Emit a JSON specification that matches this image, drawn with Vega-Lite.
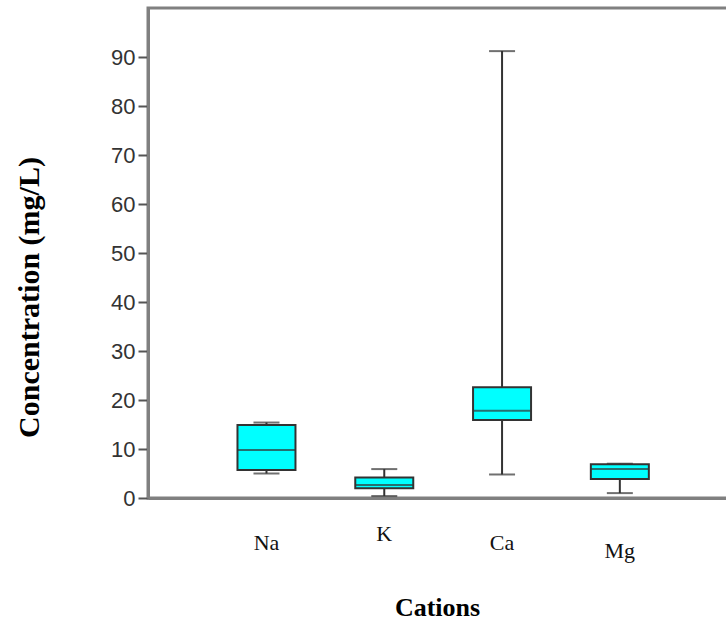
{
  "$schema": "https://vega.github.io/schema/vega-lite/v6.json",
  "autosize": "none",
  "padding": {"left": 148, "top": 8, "right": 0, "bottom": 127},
  "width": 584,
  "height": 490,
  "background": "white",
  "config": {
    "view": {"stroke": "#808080", "strokeWidth": 3}
  },
  "data": {
    "values": [
      {"cation": "Na", "lower": 5.0, "q1": 5.7, "median": 9.8, "q3": 14.9, "upper": 15.4},
      {"cation": "K", "lower": 0.4, "q1": 2.0, "median": 2.65, "q3": 4.2, "upper": 5.9},
      {"cation": "Ca", "lower": 4.8, "q1": 15.9, "median": 17.8, "q3": 22.6, "upper": 91.2},
      {"cation": "Mg", "lower": 1.0, "q1": 3.9, "median": 5.9, "q3": 6.9, "upper": 7.0}
    ]
  },
  "encoding": {
    "x": {
      "field": "cation",
      "type": "nominal",
      "sort": ["Na", "K", "Ca", "Mg"],
      "scale": {"paddingInner": 0, "paddingOuter": 0.479, "align": 0.528},
      "axis": {
        "title": "Cations",
        "titleFont": "Liberation Serif",
        "titleFontSize": 26,
        "titleFontWeight": "bold",
        "titleColor": "#000",
        "titleX": 289,
        "titleY": 109,
        "titleBaseline": "middle",
        "labelAngle": 0,
        "labelFont": "Liberation Serif",
        "labelFontSize": 22,
        "labelColor": "#111",
        "labelBaseline": "middle",
        "labelPadding": {
          "condition": [
            {"test": "datum.value === 'K'", "value": 35},
            {"test": "datum.value === 'Mg'", "value": 52}
          ],
          "value": 44
        },
        "ticks": false,
        "domainColor": "#808080",
        "domainWidth": 3
      }
    }
  },
  "layer": [
    {
      "mark": {"type": "rule", "color": "#333", "strokeWidth": 2},
      "encoding": {
        "y": {
          "field": "lower",
          "type": "quantitative",
          "scale": {"domain": [0, 100], "nice": false},
          "axis": {
            "title": "Concentration (mg/L)",
            "titleFont": "Liberation Serif",
            "titleFontSize": 30,
            "titleFontWeight": "bold",
            "titleColor": "#000",
            "titleX": -119,
            "titleY": 289,
            "titleBaseline": "middle",
            "titleAlign": "center",
            "values": [0, 10, 20, 30, 40, 50, 60, 70, 80, 90],
            "grid": false,
            "labelFont": "Liberation Sans",
            "labelFontSize": 22,
            "labelColor": "#333",
            "labelPadding": 3,
            "tickSize": 10,
            "tickWidth": 2,
            "tickColor": "#555",
            "domainColor": "#808080",
            "domainWidth": 3
          }
        },
        "y2": {"field": "upper"}
      }
    },
    {
      "mark": {"type": "bar", "size": 58, "fill": "#00FFFF", "stroke": "#333", "strokeWidth": 2},
      "encoding": {
        "y": {"field": "q1", "type": "quantitative"},
        "y2": {"field": "q3"}
      }
    },
    {
      "mark": {"type": "tick", "size": 58, "thickness": 2, "color": "#333"},
      "encoding": {"y": {"field": "median", "type": "quantitative"}}
    },
    {
      "mark": {"type": "tick", "size": 26, "thickness": 2, "color": "#333"},
      "encoding": {"y": {"field": "lower", "type": "quantitative"}}
    },
    {
      "mark": {"type": "tick", "size": 26, "thickness": 2, "color": "#333"},
      "encoding": {"y": {"field": "upper", "type": "quantitative"}}
    }
  ]
}
